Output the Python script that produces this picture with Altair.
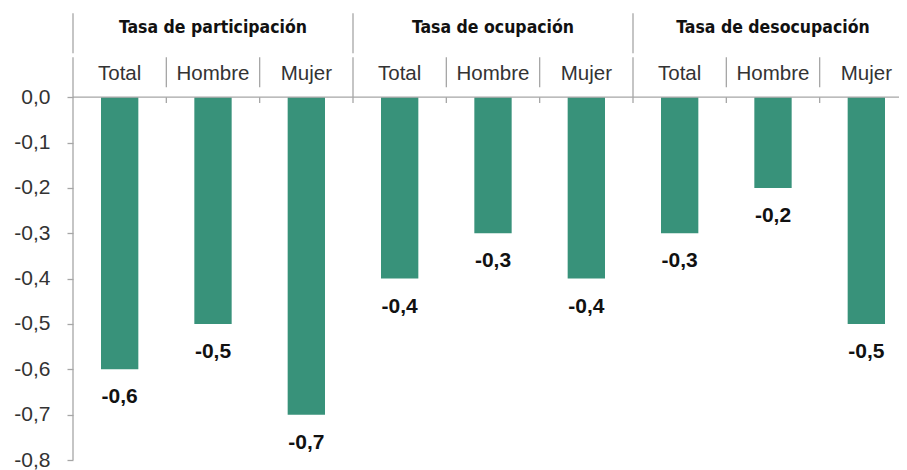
import altair as alt
import pandas as pd

# ---- data ----
groups = ["Tasa de participación", "Tasa de ocupación", "Tasa de desocupación"]
subcats = ["Total", "Hombre", "Mujer"]
values = [-0.6, -0.5, -0.7, -0.4, -0.3, -0.4, -0.3, -0.2, -0.5]
y_ticks = [0.0, -0.1, -0.2, -0.3, -0.4, -0.5, -0.6, -0.7, -0.8]

# ---- layout constants ----
X_MAX = 8.85
Y_MIN, Y_MAX = -0.8, 0.19
HALF_BAR = 0.2
GRAY = "#a6a6a6"
BAR = "#38927a"
NARROW = "DejaVu Sans Condensed, sans-serif"
SANS = "Liberation Sans, Arial, Helvetica, sans-serif"

n = len(values)
bars = pd.DataFrame({
    "pos": [i + 0.5 for i in range(n)],
    "value": values,
    "zero": [0.0] * n,
    "sub": [subcats[i % len(subcats)] for i in range(n)],
    "label": [f"{v:.1f}".replace(".", ",") for v in values],
})
bars["x0"] = bars["pos"] - HALF_BAR
bars["x1"] = bars["pos"] + HALF_BAR
bars["suby"] = 0.052

titles = pd.DataFrame({
    "gpos": [len(subcats) * g + len(subcats) / 2 for g in range(len(groups))],
    "title": groups,
    "ty": [0.152] * len(groups),
})

# separator segments
segs = []
for k in range(n + 1):
    x = k
    if x > X_MAX:
        continue
    if k % 3 == 0:
        segs.append({"x": x, "y": 0.185, "y2": 0.097})
        segs.append({"x": x, "y": 0.088, "y2": -0.8 if k == 0 else -0.013})
    else:
        segs.append({"x": x, "y": 0.088, "y2": 0.022})
        segs.append({"x": x, "y": 0.0, "y2": -0.013})
segs = pd.DataFrame(segs)
zero_line = pd.DataFrame({"x": [0.0], "x2": [X_MAX], "y": [0.0]})

xs = alt.Scale(domain=[0, X_MAX], nice=False, zero=False)
ys = alt.Scale(domain=[Y_MIN, Y_MAX], nice=False, zero=False)
yaxis = alt.Axis(
    values=y_ticks, domain=False, grid=False, ticks=True, tickSize=6,
    tickColor=GRAY, tickWidth=1.3, labelFontSize=21, labelColor="#333333",
    labelFont=SANS, labelPadding=17, title=None,
    labelExpr="(datum.value < -0.0001 ? '-' : '') + replace(format(abs(datum.value), '.1f'), '.', ',')",
)

bar_layer = alt.Chart(bars).mark_bar(color=BAR).encode(
    x=alt.X("x0:Q", scale=xs, axis=None), x2="x1:Q",
    y=alt.Y("value:Q", scale=ys, axis=yaxis), y2="zero:Q",
)
val_layer = alt.Chart(bars).mark_text(
    fontWeight="bold", fontSize=21, font=SANS, dy=28, baseline="middle", color="#111111"
).encode(
    x=alt.X("pos:Q", scale=xs, axis=None),
    y=alt.Y("value:Q", scale=ys, axis=yaxis),
    text="label:N",
)
sub_layer = alt.Chart(bars).mark_text(
    fontSize=20.5, font=SANS, baseline="middle", color="#333333"
).encode(
    x=alt.X("pos:Q", scale=xs, axis=None),
    y=alt.Y("suby:Q", scale=ys, axis=yaxis),
    text="sub:N",
)
title_layer = alt.Chart(titles).mark_text(
    fontSize=17.5, font=NARROW, fontWeight="bold", baseline="middle", color="#111111"
).encode(
    x=alt.X("gpos:Q", scale=xs, axis=None),
    y=alt.Y("ty:Q", scale=ys, axis=yaxis),
    text="title:N",
)
sep_layer = alt.Chart(segs).mark_rule(color=GRAY, strokeWidth=1.3).encode(
    x=alt.X("x:Q", scale=xs, axis=None),
    y=alt.Y("y:Q", scale=ys, axis=yaxis), y2="y2:Q",
)
zero_layer = alt.Chart(zero_line).mark_rule(color=GRAY, strokeWidth=1.3).encode(
    x=alt.X("x:Q", scale=xs, axis=None), x2="x2:Q",
    y=alt.Y("y:Q", scale=ys, axis=yaxis),
)

chart = alt.layer(
    bar_layer, zero_layer, sep_layer, sub_layer, title_layer, val_layer
).properties(
    width=826, height=449,
    padding={"left": 65, "top": 3, "right": 0, "bottom": 10},
    autosize=alt.AutoSizeParams(type="none"),
).configure_view(stroke=None)

chart.save("out.html", embed_options={"renderer": "svg", "actions": False})
